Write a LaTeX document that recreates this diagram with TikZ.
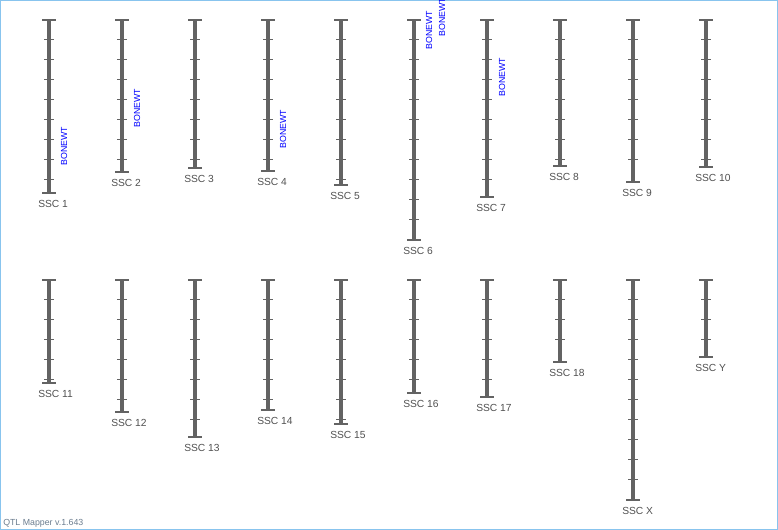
\documentclass[tikz,border=0pt]{standalone}
\usepackage{fontspec}
\setmainfont{Liberation Sans}
\definecolor{chromgray}{HTML}{636363}
\definecolor{labgray}{HTML}{505050}
\definecolor{bordercol}{HTML}{88C4EE}
\definecolor{footcol}{HTML}{6A7C8E}
\definecolor{qtlblue}{HTML}{0000FF}
\begin{document}
\begin{tikzpicture}[x=0.75pt,y=-0.75pt,
  chrom/.style={draw=chromgray, line width=3pt},
  tickmark/.style={draw=chromgray, line width=0.75pt},
  capline/.style={draw=chromgray, line width=1.2pt},
  chrlabel/.style={font=\fontsize{7.7pt}{8pt}\selectfont, text=labgray, inner sep=0pt, anchor=west},
  qtl/.style={font=\fontsize{6.6pt}{7pt}\selectfont, text=qtlblue, rotate=90, inner sep=0pt},
  foot/.style={font=\fontsize{6.6pt}{7pt}\selectfont, text=footcol, inner sep=0pt, anchor=west}]
\useasboundingbox (0,0) rectangle (778,530);
\clip (0,0) rectangle (778,530);
\draw[bordercol, line width=0.75pt] (0.5,0.5) rectangle (777.5,529.5);
\foreach \x/\t/\b/\n in {49/20/193/1, 122/20/172/2, 195/20/168/3, 268/20/171/4, 341/20/185/5,
  414/20/240/6, 487/20/197/7, 560/20/166/8, 633/20/182/9, 706/20/167/10,
  49/280/383/11, 122/280/412/12, 195/280/437/13, 268/280/410/14, 341/280/424/15,
  414/280/393/16, 487/280/397/17, 560/280/362/18, 633/280/500/X, 706/280/357/Y}{
  \draw[chrom] (\x,\t) -- (\x,\b);
  \draw[capline] (\x-7,\t) -- (\x+7,\t);
  \draw[capline] (\x-7,\b) -- (\x+7,\b);
  \pgfmathtruncatemacro\nt{(\b-\t-3)/20}
  \foreach \k in {1,...,\nt}{
    \draw[tickmark] (\x-5,\t+20*\k) -- (\x+5,\t+20*\k);
  }
  \node[chrlabel] (lab\n) at (\x-11,\b+10.5) {SSC \n};
}
\node[qtl] (q1) at (64,146) {BONEWT};
\node[qtl] (q2) at (137,108) {BONEWT};
\node[qtl] (q4) at (283,129) {BONEWT};
\node[qtl] (q6a) at (429,30) {BONEWT};
\node[qtl] (q6b) at (442,17) {BONEWT};
\node[qtl] (q7) at (502,77) {BONEWT};
\node[foot] (footer) at (3,523) {QTL Mapper v.1.643};
\end{tikzpicture}
\end{document}
